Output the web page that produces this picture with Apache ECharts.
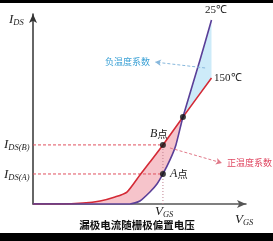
<!DOCTYPE html>
<html>
<head>
<meta charset="utf-8">
<script src="https://cdn.jsdelivr.net/npm/echarts@6/dist/echarts.min.js"></script>
<style>
  html, body { margin: 0; padding: 0; background: #fff; }
  #chart { width: 273px; height: 241px; }
</style>
</head>
<body>
<div id="chart"></div>
<script>
// 150°C curve (red)
const xHot = [0, 12.7, 23.5, 31.5, 38.5, 44.1, 50.2, 54.9, 61.0, 70.4, 83.8]
const yHot = [0, 0, 0.5, 1.6, 3.7, 6.3, 15.3, 22.1, 31.1, 45.8, 66.3]
// 25°C curve (purple)
const xCold = [0, 45.5, 50.2, 54.9, 58.2, 61.0, 64.3, 67.1, 70.4, 78.4, 83.8]
const yCold = [0, 0, 1.6, 6.3, 10.5, 15.8, 23.2, 31.1, 45.8, 75.8, 96.8]
// operating points: B, A, crossover
const pointX = [61.0, 61.0, 70.4]
const pointY = [31.1, 15.8, 45.8]
const vgsX = 61.0

const hot = xHot.map((x, i) => [x, yHot[i]])
const cold = xCold.map((x, i) => [x, yCold[i]])
const crossHot = 9
const crossCold = 8

// fill between the two curves: below crossover (pink), above it (blue)
const polyLow = hot.slice(0, crossHot + 1).concat(cold.slice(0, crossCold + 1).reverse())
const polyHigh = cold.slice(crossCold).concat(hot.slice(crossHot).reverse())

const serif = 'Liberation Serif'
const cjk = 'Noto Sans CJK SC'

const subLabel = (main, sub, x, y) => ({
  type: 'text',
  x: x,
  y: y,
  style: {
    text: `{i|${main}}{s|${sub}}`,
    verticalAlign: 'middle',
    rich: {
      i: { fontFamily: serif, fontStyle: 'italic', fontSize: 13, lineHeight: 14, fill: '#222' },
      s: { fontFamily: serif, fontStyle: 'italic', fontSize: 8.5, lineHeight: 9, fill: '#222', verticalAlign: 'bottom', padding: [6, 0, 0, 0] }
    }
  }
})

const chart = echarts.init(document.getElementById('chart'))

const option = {
  animation: false,
  grid: { left: 33, right: 27, top: 14, bottom: 37 },
  xAxis: {
    type: 'value',
    min: 0,
    max: 100,
    axisLine: { show: true, lineStyle: { color: '#555', width: 1.5 }, symbol: ['none', 'arrow'], symbolSize: [6, 9] },
    axisTick: { show: false },
    axisLabel: { show: false },
    splitLine: { show: false }
  },
  yAxis: {
    type: 'value',
    min: 0,
    max: 100,
    axisLine: { show: true, lineStyle: { color: '#333', width: 1.5 }, symbol: ['none', 'arrow'], symbolSize: [6, 9] },
    axisTick: { show: false },
    axisLabel: { show: false },
    splitLine: { show: false }
  },
  series: [
    {
      type: 'custom',
      clip: false,
      silent: true,
      data: [[0, 0], [1, 0]],
      renderItem: (params, api) => {
        const poly = params.dataIndex === 0 ? polyLow : polyHigh
        return {
          type: 'polygon',
          shape: { points: poly.map(p => api.coord(p)) },
          style: { fill: params.dataIndex === 0 ? '#f6c4cb' : '#cdebf9' }
        }
      },
      z: 1
    },
    {
      // reference lines to B and A
      type: 'line',
      data: [[0, pointY[0]], [vgsX, pointY[0]]],
      symbol: 'none',
      lineStyle: { color: '#e0505e', width: 1, type: [3, 2] },
      z: 2
    },
    {
      type: 'line',
      data: [[0, pointY[1]], [vgsX, pointY[1]]],
      symbol: 'none',
      lineStyle: { color: '#e0505e', width: 1, type: [3, 2] },
      z: 2
    },
    {
      type: 'line',
      data: [[vgsX, 0], [vgsX, pointY[0]]],
      symbol: 'none',
      lineStyle: { color: '#c08090', width: 1, type: [1, 2] },
      z: 2
    },
    {
      name: '150℃',
      type: 'line',
      data: hot,
      symbol: 'none',
      smooth: 0.2,
      lineStyle: { color: '#d42a36', width: 1.6 },
      z: 3
    },
    {
      name: '25℃',
      type: 'line',
      data: cold,
      symbol: 'none',
      smooth: 0.2,
      lineStyle: { color: '#5a3f98', width: 1.6 },
      z: 3,
      markLine: {
        silent: true,
        symbol: ['none', 'arrow'],
        symbolSize: [5, 6],
        label: { show: false },
        data: [
          [
            { coord: [80.8, 71.6], lineStyle: { color: '#86b7dc', width: 1, type: [3, 2] } },
            { coord: [57.3, 74.7] }
          ],
          [
            { coord: [64.3, 29.5], lineStyle: { color: '#e07888', width: 1, type: [3, 2] } },
            { coord: [88.7, 21.6] }
          ]
        ]
      }
    },
    {
      type: 'scatter',
      data: pointX.map((x, i) => [x, pointY[i]]),
      symbolSize: 6,
      itemStyle: { color: '#111' },
      z: 5
    }
  ],
  graphic: [
    { type: 'rect', shape: { x: 0, y: 0, width: 273, height: 3 }, style: { fill: '#000' } },
    { type: 'rect', shape: { x: 0, y: 233, width: 273, height: 8 }, style: { fill: '#000' } },
    subLabel('I', 'DS', 9, 20),
    subLabel('I', 'DS(B)', 4, 145),
    subLabel('I', 'DS(A)', 4, 175),
    subLabel('V', 'GS', 155, 212),
    subLabel('V', 'GS', 235, 220),
    {
      type: 'text', x: 205, y: 10,
      style: { text: '25℃', fontFamily: serif, fontSize: 11, fill: '#222', verticalAlign: 'middle' }
    },
    {
      type: 'text', x: 214, y: 78,
      style: { text: '150℃', fontFamily: serif, fontSize: 11, fill: '#222', verticalAlign: 'middle' }
    },
    {
      type: 'text', x: 105, y: 62,
      style: { text: '负温度系数', fontFamily: cjk, fontSize: 9, fill: '#3da2d6', verticalAlign: 'middle' }
    },
    {
      type: 'text', x: 227, y: 163,
      style: { text: '正温度系数', fontFamily: cjk, fontSize: 9, fill: '#e04862', verticalAlign: 'middle' }
    },
    {
      type: 'text', x: 150, y: 134,
      style: {
        text: '{i|B}{c|点}', verticalAlign: 'middle',
        rich: {
          i: { fontFamily: serif, fontStyle: 'italic', fontSize: 12, fill: '#222' },
          c: { fontFamily: cjk, fontSize: 10.5, fill: '#222' }
        }
      }
    },
    {
      type: 'text', x: 170, y: 174,
      style: {
        text: '{i|A}{c|点}', verticalAlign: 'middle',
        rich: {
          i: { fontFamily: serif, fontStyle: 'italic', fontSize: 12, fill: '#222' },
          c: { fontFamily: cjk, fontSize: 10.5, fill: '#222' }
        }
      }
    },
    {
      type: 'text', x: 137, y: 225,
      style: { text: '漏极电流随栅极偏置电压', fontFamily: cjk, fontSize: 10.5, fontWeight: 'bold', fill: '#111', align: 'center', verticalAlign: 'middle' }
    }
  ]
}

chart.setOption(option)
window.addEventListener('resize', () => chart.resize())
</script>
</body>
</html>
